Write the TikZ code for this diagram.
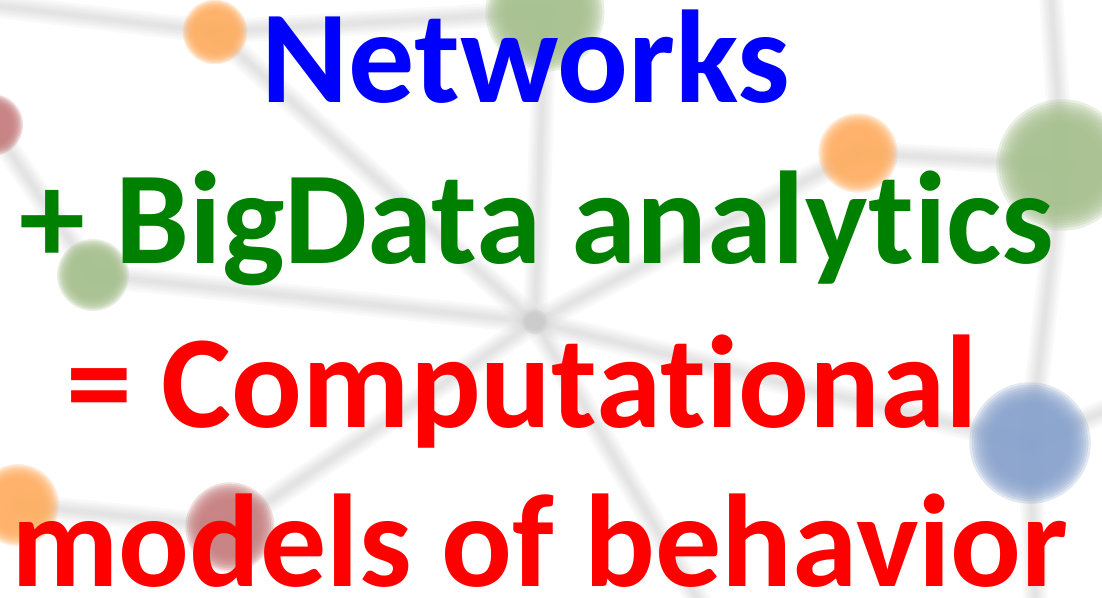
\documentclass[tikz,border=0pt]{standalone}
\usepackage{fontspec}
\setmainfont{Carlito}[Ligatures={NoCommon,NoRare,NoContextual}]
\definecolor{dotorange}{RGB}{255,176,100}
\definecolor{dotgreen}{RGB}{168,194,144}
\definecolor{dotblue}{RGB}{138,164,206}
\definecolor{dotred}{RGB}{200,128,128}
\definecolor{txtblue}{RGB}{0,0,255}
\definecolor{txtgreen}{RGB}{0,128,0}
\definecolor{txtred}{RGB}{255,0,0}
% soft (blurred) connector between two named points
\newcommand\softlink[2]{%
  \foreach \w in {24,19,15,11,7,4}{\draw[link, line width=\w pt] (#1) -- (#2);}}
% soft (blurred) disc: centre name, radius, colour
\newcommand\softdot[3]{%
  \foreach \k in {0,...,9}{\fill[#3, opacity=0.25] (#1) circle ({#2*(1.24-0.05*\k)});}}
\begin{document}
\begin{tikzpicture}[x=1pt,y=-1pt,
  link/.style={line cap=round, draw=black!20, opacity=0.11},
  headline/.style={anchor=base, inner sep=0pt,
    font=\fontsize{132}{150}\selectfont\bfseries}]
\fill[white] (0,0) rectangle (1102,597);
\useasboundingbox (0,0) rectangle (1102,597);
\clip (0,0) rectangle (1102,597);

% network points
\coordinate (hub) at (535,322);
\coordinate (A) at (215,32);
\coordinate (B) at (545,12);
\coordinate (C) at (-8,125);
\coordinate (D) at (858,153);
\coordinate (E) at (1062,165);
\coordinate (F) at (93,275);
\coordinate (G) at (18,505);
\coordinate (H) at (230,527);
\coordinate (I) at (1030,443);
\coordinate (edgeTL) at (-10,5);
\coordinate (edgeR) at (1120,405);
\coordinate (edgeB) at (1036,620);
\coordinate (edgeBC) at (710,620);
\coordinate (edgeT) at (1050,-20);

% background links
\softlink{A}{B}
\softlink{edgeTL}{A}
\softlink{A}{hub}
\softlink{B}{hub}
\softlink{C}{F}
\softlink{F}{hub}
\softlink{hub}{D}
\softlink{D}{E}
\softlink{E}{I}
\softlink{edgeT}{E}
\softlink{I}{edgeB}
\softlink{hub}{H}
\softlink{H}{G}
\softlink{hub}{edgeBC}
\softlink{hub}{I}
\softlink{I}{edgeR}

% background discs
\softdot{A}{26}{dotorange}
\softdot{B}{48}{dotgreen}
\softdot{C}{25}{dotred}
\softdot{D}{32}{dotorange}
\softdot{E}{53}{dotgreen}
\softdot{F}{29}{dotgreen}
\softdot{G}{33}{dotorange}
\softdot{H}{36}{dotred}
\softdot{I}{49}{dotblue}

% headline text
\node[headline, text=txtblue]  (l1) at (526,102) {Networks};
\node[headline, text=txtgreen] (l2) at (537,263) {+ BigData analytics};
\node[headline, text=txtred]   (l3) at (522,427) {= Computational};
\node[headline, text=txtred]   (l4) at (540,586) {models of behavior};
\end{tikzpicture}
\end{document}
